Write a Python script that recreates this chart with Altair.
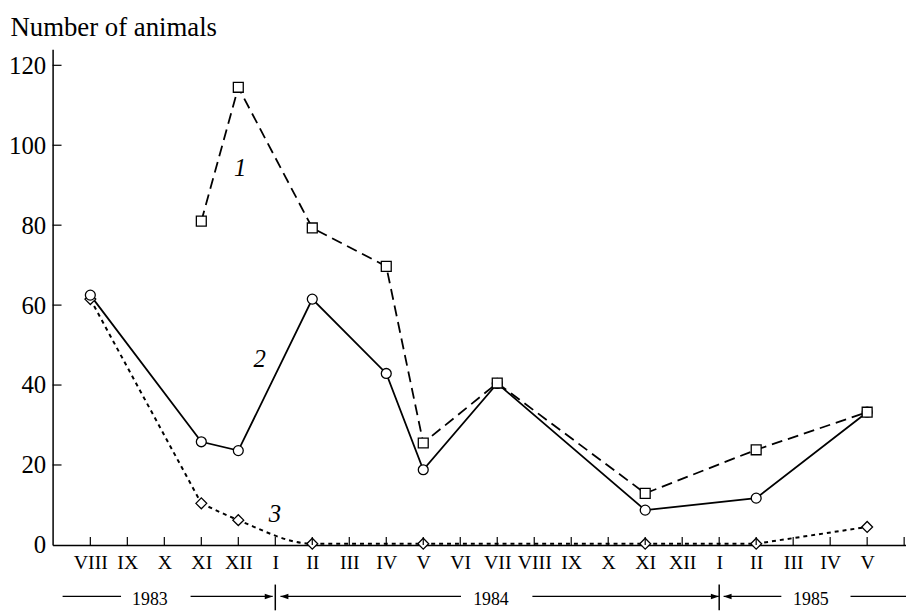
import altair as alt
import pandas as pd

# ---- data ----
months = ["VIII", "IX", "X", "XI", "XII", "I", "II", "III", "IV", "V", "VI",
          "VII", "VIII", "IX", "X", "XI", "XII", "I", "II", "III", "IV", "V"]

s1_idx = [3, 4, 6, 8, 9, 11, 15, 18, 21]
s1_val = [81.0, 114.5, 79.3, 69.7, 25.5, 40.5, 12.9, 23.8, 33.2]

s2_idx = [0, 3, 4, 6, 8, 9, 11, 15, 18, 21]
s2_val = [62.5, 25.8, 23.6, 61.5, 42.9, 18.8, 40.4, 8.7, 11.7, 33.2]

s3_idx = [0, 3, 4, 6, 9, 15, 18, 21]
s3_val = [61.5, 10.4, 6.2, 0.3, 0.3, 0.3, 0.3, 4.5]

y_ticks = [0, 20, 40, 60, 80, 100, 120]
x_ticks = list(range(23))

curve_names = ["1", "2", "3"]
curve_name_x = [4.05, 4.58, 4.99]
curve_name_y = [94.2, 46.4, 7.7]

years = ["1983", "1984", "1985"]
year_x = [1.61, 10.83, 19.48]
year_seg_start = [-0.75, 2.71, 5.14, 11.95, 17.12, 20.55]
year_seg_end = [0.83, 4.93, 10.02, 16.99, 18.68, 22.05]
arrow_right_x = [4.93, 16.99]
arrow_left_x = [5.14, 17.12]
year_bars = [5, 17]

# ---- layout ----
W, H = 861, 500
FONT = "Liberation Serif"
xs = alt.Scale(domain=[-1.02, 22.05], nice=False, zero=False)
ys = alt.Scale(domain=[0, 124], nice=False, zero=False)

label_expr = "[" + ",".join("'%s'" % m for m in months) + "][datum.value]"

d1 = pd.DataFrame({"x": s1_idx, "y": s1_val})
d2 = pd.DataFrame({"x": s2_idx, "y": s2_val})
d3 = pd.DataFrame({"x": s3_idx, "y": s3_val})
d3a = d3.iloc[:2]     # straight drop
d3b = d3.iloc[1:5]    # smooth bend onto the axis
d3c = d3.iloc[4:]     # straight along the axis and final rise

X = alt.X("x:Q", scale=xs, axis=alt.Axis(
    values=list(range(len(months))), labelExpr=label_expr, title=None,
    ticks=False, tickSize=0, grid=False, labelPadding=8, labelFontSize=20,
    labelFont=FONT, labelColor="black", labelFlush=False, labelOverlap=False,
    labelBound=False, domainColor="black", domainWidth=1.5))
Y = alt.Y("y:Q", scale=ys, axis=alt.Axis(
    values=y_ticks, title="Number of animals", titleAngle=0, titleAlign="left",
    titleBaseline="alphabetic", titleX=-43, titleY=-14, titleFontSize=27,
    titleFont=FONT, titleFontWeight="normal", titleColor="black",
    ticks=False, tickSize=0, grid=False, labelPadding=7, labelFontSize=25,
    labelFont=FONT, labelColor="black", labelOverlap=False,
    domainColor="black", domainWidth=1.5))

dot = dict(color="black", strokeWidth=2, strokeDash=[4, 4])
line3a = alt.Chart(d3a).mark_line(**dot).encode(x=X, y=Y)
line3b = alt.Chart(d3b).mark_line(interpolate="monotone", **dot).encode(x=X, y=Y)
line3c = alt.Chart(d3c).mark_line(**dot).encode(x=X, y=Y)
line1 = alt.Chart(d1).mark_line(color="black", strokeWidth=1.8,
                                strokeDash=[11, 6]).encode(x=X, y=Y)
line2 = alt.Chart(d2).mark_line(color="black", strokeWidth=1.8).encode(x=X, y=Y)

pt_style = dict(filled=True, fill="white", stroke="black", strokeWidth=1.3, opacity=1)
pts3 = alt.Chart(d3).mark_point(shape="diamond", size=120, **pt_style).encode(x=X, y=Y)
pts2 = alt.Chart(d2).mark_point(shape="circle", size=100, **pt_style).encode(x=X, y=Y)
pts1 = alt.Chart(d1).mark_point(shape="square", size=100, **pt_style).encode(x=X, y=Y)

# inward ticks
xt = alt.Chart(pd.DataFrame({"x": x_ticks})).mark_rule(color="black", strokeWidth=1.2).encode(
    x=alt.X("x:Q", scale=xs), y=alt.value(H), y2=alt.value(H - 8))
yt = alt.Chart(pd.DataFrame({"y": y_ticks[1:]})).mark_rule(color="black", strokeWidth=1.2).encode(
    y=alt.Y("y:Q", scale=ys), x=alt.value(0), x2=alt.value(9))

names = alt.Chart(pd.DataFrame({"x": curve_name_x, "y": curve_name_y, "t": curve_names})).mark_text(
    font=FONT, fontStyle="italic", fontSize=25, align="center", baseline="middle", color="black"
).encode(x=alt.X("x:Q", scale=xs), y=alt.Y("y:Q", scale=ys), text="t:N")

# year annotation row
YR = 552
yr_text = alt.Chart(pd.DataFrame({"x": year_x, "t": years})).mark_text(
    font=FONT, fontSize=18, align="center", baseline="alphabetic", color="black"
).encode(x=alt.X("x:Q", scale=xs), y=alt.value(561), text="t:N")
yr_lines = alt.Chart(pd.DataFrame({"a": year_seg_start, "b": year_seg_end})).mark_rule(
    color="black", strokeWidth=1.2).encode(x=alt.X("a:Q", scale=xs), x2="b:Q", y=alt.value(YR))
yr_bars = alt.Chart(pd.DataFrame({"x": year_bars})).mark_rule(color="black", strokeWidth=1.5).encode(
    x=alt.X("x:Q", scale=xs), y=alt.value(540), y2=alt.value(566))
arr_r = alt.Chart(pd.DataFrame({"x": arrow_right_x})).mark_point(
    shape="M0,0L-2,-0.7L-2,0.7Z", size=64, filled=True, color="black", opacity=1).encode(
    x=alt.X("x:Q", scale=xs), y=alt.value(YR))
arr_l = alt.Chart(pd.DataFrame({"x": arrow_left_x})).mark_point(
    shape="M0,0L2,-0.7L2,0.7Z", size=64, filled=True, color="black", opacity=1).encode(
    x=alt.X("x:Q", scale=xs), y=alt.value(YR))

chart = alt.layer(
    line3a, line3b, line3c, line1, line2, pts3, pts2, pts1, xt, yt, names,
    yr_lines, yr_bars, arr_r, arr_l, yr_text
).properties(
    width=W, height=H,
    padding={"left": 45, "top": 39, "right": 0, "bottom": 65},
    autosize=alt.AutoSizeParams(type="none"),
    background="white",
).configure_view(stroke=None)

chart.save("out.html", embed_options={"renderer": "svg", "actions": False})
